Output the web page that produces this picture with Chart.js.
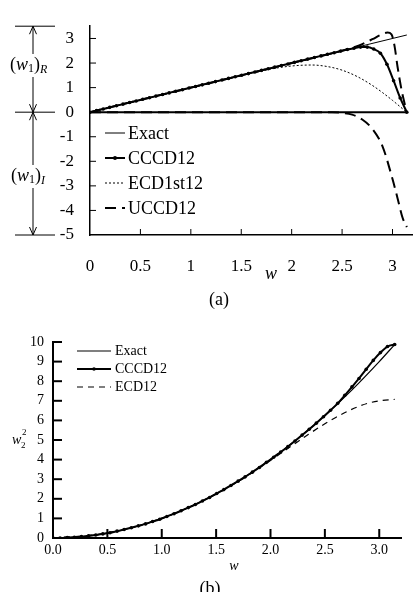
<!DOCTYPE html>
<html>
<head>
<meta charset="utf-8">
<script src="https://cdn.jsdelivr.net/npm/chart.js@4.4.0/dist/chart.umd.min.js"></script>
<style>
  body { margin: 0; background: #fff; width: 418px; height: 592px; overflow: hidden; position: relative; }
  #chartA { position: absolute; left: 0; top: 0; }
  #chartB { position: absolute; left: 0; top: 300px; }
</style>
</head>
<body>
<canvas id="chartA" width="418" height="312"></canvas>
<canvas id="chartB" width="418" height="292"></canvas>
<script>
// sample points used for the dotted CCCD12 curves (w = 0 .. pi)
var wGrid = [0, 0.065, 0.131, 0.196, 0.262, 0.327, 0.393, 0.458, 0.524, 0.589, 0.654, 0.720, 0.785,
  0.851, 0.916, 0.982, 1.047, 1.113, 1.178, 1.244, 1.309, 1.374, 1.440, 1.505, 1.571, 1.636, 1.702,
  1.767, 1.833, 1.898, 1.963, 2.029, 2.094, 2.160, 2.225, 2.291, 2.356, 2.421, 2.487, 2.552, 2.618,
  2.683, 2.749, 2.814, 2.880, 2.945, 3.011, 3.076, 3.142];

// ---- chart (a) ----
var exactReW = [0, 3.142];
var exactReV = [0, 3.142];
var zeroW = [0, 3.142];
var zeroV = [0, 0];
var cccdReV = [0, 0.065, 0.131, 0.196, 0.262, 0.327, 0.393, 0.458, 0.524, 0.589, 0.654, 0.720, 0.785,
  0.851, 0.916, 0.982, 1.047, 1.113, 1.178, 1.244, 1.309, 1.374, 1.440, 1.505, 1.571, 1.636, 1.702,
  1.767, 1.833, 1.898, 1.963, 2.029, 2.094, 2.160, 2.225, 2.291, 2.356, 2.421, 2.487, 2.550, 2.600,
  2.650, 2.650, 2.570, 2.400, 1.950, 1.280, 0.580, 0];
var ecd1W = [0, 0.5, 1.0, 1.3, 1.5, 1.65, 1.8, 2.0, 2.2, 2.35, 2.5, 2.65, 2.8, 2.9, 3.0, 3.1, 3.142];
var ecd1V = [0, 0.5, 1.0, 1.3, 1.49, 1.63, 1.76, 1.88, 1.92, 1.86, 1.71, 1.45, 1.09, 0.80, 0.48, 0.14, 0];
var uccdReW = [0, 1.0, 2.0, 2.5, 2.6, 2.7, 2.8, 2.9, 2.95, 2.99, 3.02, 3.05, 3.09, 3.12, 3.142];
var uccdReV = [0, 1.0, 2.0, 2.5, 2.62, 2.77, 2.97, 3.18, 3.24, 3.17, 2.7, 1.85, 0.9, 0.35, 0];
var uccdImW = [0, 2.4, 2.5, 2.6, 2.7, 2.8, 2.9, 3.0, 3.05, 3.1, 3.142];
var uccdImV = [0, 0, -0.03, -0.1, -0.3, -0.68, -1.38, -2.72, -3.5, -4.3, -4.68];
var xTicksA = [0, 0.5, 1, 1.5, 2, 2.5, 3];
var yTicksA = [-5, -4, -3, -2, -1, 0, 1, 2, 3];

// ---- chart (b) ----
var exactW = [0, 0.25, 0.5, 0.75, 1.0, 1.25, 1.5, 1.75, 2.0, 2.25, 2.5, 2.75, 3.0, 3.142];
var exactV = [0, 0.06, 0.25, 0.56, 1.0, 1.56, 2.25, 3.06, 4.0, 5.06, 6.25, 7.56, 9.0, 9.87];
var cccdV = [0, 0.00, 0.02, 0.04, 0.07, 0.11, 0.15, 0.21, 0.27, 0.35, 0.43, 0.52, 0.62, 0.72, 0.84,
  0.96, 1.10, 1.24, 1.39, 1.55, 1.71, 1.89, 2.07, 2.27, 2.47, 2.68, 2.90, 3.12, 3.36, 3.60, 3.86,
  4.12, 4.39, 4.66, 4.95, 5.25, 5.55, 5.86, 6.19, 6.52, 6.87, 7.28, 7.71, 8.14, 8.61, 9.06, 9.46,
  9.77, 9.87];
var ecdW = [0, 0.5, 1.0, 1.5, 1.8, 2.0, 2.2, 2.35, 2.5, 2.6, 2.7, 2.8, 2.9, 3.0, 3.142];
var ecdV = [0, 0.25, 1.0, 2.24, 3.22, 3.96, 4.72, 5.29, 5.83, 6.15, 6.44, 6.69, 6.88, 7.00, 7.07];
var xTicksB = [0, 0.5, 1.0, 1.5, 2.0, 2.5, 3.0];
var yTicksB = [0, 1, 2, 3, 4, 5, 6, 7, 8, 9, 10];

Chart.defaults.font.family = '"Liberation Serif", "Times New Roman", serif';
Chart.defaults.color = '#000';

function pts(xs, ys) {
  return xs.map(function (x, i) { return { x: x, y: ys[i] }; });
}
function line(ctx, x1, y1, x2, y2) {
  ctx.beginPath(); ctx.moveTo(x1, y1); ctx.lineTo(x2, y2); ctx.stroke();
}
function richText(ctx, x, y, parts) {
  parts.forEach(function (p) {
    ctx.font = p[1];
    ctx.fillText(p[0], x, y + (p[2] || 0));
    x += ctx.measureText(p[0]).width;
  });
}
function arrowHead(ctx, x, y, dir) {
  ctx.beginPath();
  ctx.moveTo(x - 3.5, y - dir * 8);
  ctx.lineTo(x, y);
  ctx.lineTo(x + 3.5, y - dir * 8);
  ctx.stroke();
}

var serif = '"Liberation Serif"';

var annotA = {
  id: 'annotA',
  afterDraw: function (chart) {
    var ctx = chart.ctx, xs = chart.scales.x, ys = chart.scales.y;
    ctx.save();
    ctx.strokeStyle = '#000';
    ctx.fillStyle = '#000';
    ctx.lineWidth = 1;
    // inward ticks
    yTicksA.forEach(function (v) {
      if (v === -5) return;
      var y = ys.getPixelForValue(v);
      line(ctx, xs.left, y, xs.left + 6, y);
    });
    xTicksA.forEach(function (v) {
      if (v === 0) return;
      var x = xs.getPixelForValue(v);
      line(ctx, x, ys.bottom, x, ys.bottom - 6);
    });

    // left bracket with arrows
    var top = ys.top, mid = ys.getPixelForValue(0), bot = ys.getPixelForValue(-5);
    line(ctx, 15, top, 55, top);
    line(ctx, 15, mid, 55, mid);
    line(ctx, 15, bot, 55, bot);
    line(ctx, 33, top, 33, 54);
    line(ctx, 33, 77, 33, mid);
    line(ctx, 33, mid, 33, 165);
    line(ctx, 33, 188, 33, bot);
    arrowHead(ctx, 33, top, -1);
    arrowHead(ctx, 33, mid, 1);
    arrowHead(ctx, 33, mid, -1);
    arrowHead(ctx, 33, bot, 1);
    ctx.textAlign = 'left';
    ctx.textBaseline = 'middle';
    richText(ctx, 10, 65, [['(', '18px ' + serif], ['w', 'italic 18px ' + serif], ['1', '12px ' + serif, 4],
      [')', '18px ' + serif], ['R', 'italic 12px ' + serif, 5]]);
    richText(ctx, 11, 176, [['(', '18px ' + serif], ['w', 'italic 18px ' + serif], ['1', '12px ' + serif, 4],
      [')', '18px ' + serif], ['I', 'italic 12px ' + serif, 5]]);

    // legend
    var items = [
      { label: 'Exact', width: 1, dash: [] },
      { label: 'CCCD12', width: 2, dash: [], dot: true },
      { label: 'ECD1st12', width: 1, dash: [2, 2] },
      { label: 'UCCD12', width: 2, dash: [11, 6] }
    ];
    items.forEach(function (it, i) {
      var y = 133 + 25 * i;
      ctx.lineWidth = it.width;
      ctx.setLineDash(it.dash);
      line(ctx, 105, y, 125, y);
      ctx.setLineDash([]);
      if (it.dot) { ctx.beginPath(); ctx.arc(115, y, 2, 0, Math.PI * 2); ctx.fill(); }
      ctx.font = '18px ' + serif;
      ctx.fillText(it.label, 128, y + 1);
    });

    // axis name and panel tag
    ctx.textAlign = 'center';
    ctx.font = 'italic 18px ' + serif;
    ctx.fillText('w', 271, 274);
    ctx.font = '18px ' + serif;
    ctx.fillText('(a)', 219, 300);
    ctx.restore();
  }
};

new Chart(document.getElementById('chartA'), {
  type: 'line',
  data: {
    datasets: [
      { label: 'Exact', data: pts(exactReW, exactReV), borderColor: '#000', borderWidth: 1, pointRadius: 0 },
      { label: 'zero', data: pts(zeroW, zeroV), borderColor: '#000', borderWidth: 2, pointRadius: 0 },
      { label: 'CCCD12', data: pts(wGrid, cccdReV), borderColor: '#000', borderWidth: 2,
        pointRadius: 1.8, pointBackgroundColor: '#000', pointBorderWidth: 0, cubicInterpolationMode: 'monotone' },
      { label: 'ECD1st12', data: pts(ecd1W, ecd1V), borderColor: '#000', borderWidth: 1, borderDash: [2, 2],
        pointRadius: 0, cubicInterpolationMode: 'monotone' },
      { label: 'UCCD12', data: pts(uccdReW, uccdReV), borderColor: '#000', borderWidth: 2, borderDash: [11, 6],
        pointRadius: 0, cubicInterpolationMode: 'monotone' },
      { label: 'UCCD12 im', data: pts(uccdImW, uccdImV), borderColor: '#000', borderWidth: 2, borderDash: [11, 6],
        pointRadius: 0, cubicInterpolationMode: 'monotone' }
    ]
  },
  options: {
    responsive: false,
    animation: false,
    layout: { padding: { top: 15, right: 0, bottom: 0, left: 0 } },
    plugins: { legend: { display: false }, tooltip: { enabled: false } },
    scales: {
      x: {
        type: 'linear', min: 0, max: 3.2,
        grid: { display: false, drawTicks: false },
        border: { color: '#000', width: 1.5 },
        ticks: { font: { size: 17 }, color: '#000', padding: 21, maxRotation: 0, autoSkip: false,
          callback: function (v) { return String(v); } },
        afterBuildTicks: function (s) { s.ticks = xTicksA.map(function (v) { return { value: v }; }); },
        afterFit: function (s) { s.height = 77; }
      },
      y: {
        min: -5, max: 3.5,
        grid: { display: false, drawTicks: false },
        border: { color: '#000', width: 1.5 },
        ticks: { font: { size: 17 }, color: '#000', padding: 16, autoSkip: false,
          callback: function (v) { return String(v); } },
        afterBuildTicks: function (s) { s.ticks = yTicksA.map(function (v) { return { value: v }; }); },
        afterFit: function (s) { s.width = 90; }
      }
    }
  },
  plugins: [annotA]
});

var annotB = {
  id: 'annotB',
  afterDraw: function (chart) {
    var ctx = chart.ctx, xs = chart.scales.x, ys = chart.scales.y;
    ctx.save();
    ctx.strokeStyle = '#000';
    ctx.fillStyle = '#000';
    ctx.lineWidth = 2;
    yTicksB.forEach(function (v) {
      if (v === 0) return;
      var y = ys.getPixelForValue(v);
      line(ctx, xs.left, y, xs.left + 9, y);
    });
    xTicksB.forEach(function (v) {
      if (v === 0) return;
      var x = xs.getPixelForValue(v);
      line(ctx, x, ys.bottom, x, ys.bottom - 9);
    });

    var items = [
      { label: 'Exact', width: 1.2, dash: [] },
      { label: 'CCCD12', width: 2.2, dash: [], dot: true },
      { label: 'ECD12', width: 1.2, dash: [6, 5] }
    ];
    ctx.textAlign = 'left';
    ctx.textBaseline = 'middle';
    items.forEach(function (it, i) {
      var y = 51 + 18 * i;
      ctx.lineWidth = it.width;
      ctx.setLineDash(it.dash);
      line(ctx, 77, y, 111, y);
      ctx.setLineDash([]);
      if (it.dot) { ctx.beginPath(); ctx.arc(94, y, 1.8, 0, Math.PI * 2); ctx.fill(); }
      ctx.font = '14px ' + serif;
      ctx.fillText(it.label, 115, y);
    });

    // y axis name w2^2
    ctx.font = 'italic 14px ' + serif;
    ctx.fillText('w', 12, 140);
    ctx.font = '9px ' + serif;
    ctx.fillText('2', 22, 133);
    ctx.fillText('2', 21, 146);

    ctx.textAlign = 'center';
    ctx.font = 'italic 14px ' + serif;
    ctx.fillText('w', 234, 266);
    ctx.textBaseline = 'alphabetic';
    ctx.font = '18px ' + serif;
    ctx.fillText('(b)', 210, 294);
    ctx.restore();
  }
};

new Chart(document.getElementById('chartB'), {
  type: 'line',
  data: {
    datasets: [
      { label: 'Exact', data: pts(exactW, exactV), borderColor: '#000', borderWidth: 1.2, pointRadius: 0,
        cubicInterpolationMode: 'monotone' },
      { label: 'CCCD12', data: pts(wGrid, cccdV), borderColor: '#000', borderWidth: 2, pointRadius: 1.8,
        pointBackgroundColor: '#000', pointBorderWidth: 0, cubicInterpolationMode: 'monotone' },
      { label: 'ECD12', data: pts(ecdW, ecdV), borderColor: '#000', borderWidth: 1.2, borderDash: [6, 5],
        pointRadius: 0, cubicInterpolationMode: 'monotone' }
    ]
  },
  options: {
    responsive: false,
    animation: false,
    layout: { padding: { top: 42, right: 17, bottom: 0, left: 0 } },
    plugins: { legend: { display: false }, tooltip: { enabled: false } },
    scales: {
      x: {
        type: 'linear', min: 0, max: 3.2,
        grid: { display: false, drawTicks: false },
        border: { color: '#000', width: 2 },
        ticks: { font: { size: 14 }, color: '#000', padding: 4, maxRotation: 0, autoSkip: false,
          callback: function (v) { return v.toFixed(1); } },
        afterBuildTicks: function (s) { s.ticks = xTicksB.map(function (v) { return { value: v }; }); },
        afterFit: function (s) { s.height = 54; }
      },
      y: {
        min: 0, max: 10,
        grid: { display: false, drawTicks: false },
        border: { color: '#000', width: 2 },
        ticks: { font: { size: 14 }, color: '#000', padding: 9, autoSkip: false },
        afterBuildTicks: function (s) { s.ticks = yTicksB.map(function (v) { return { value: v }; }); },
        afterFit: function (s) { s.width = 53; }
      }
    }
  },
  plugins: [annotB]
});
</script>
</body>
</html>
